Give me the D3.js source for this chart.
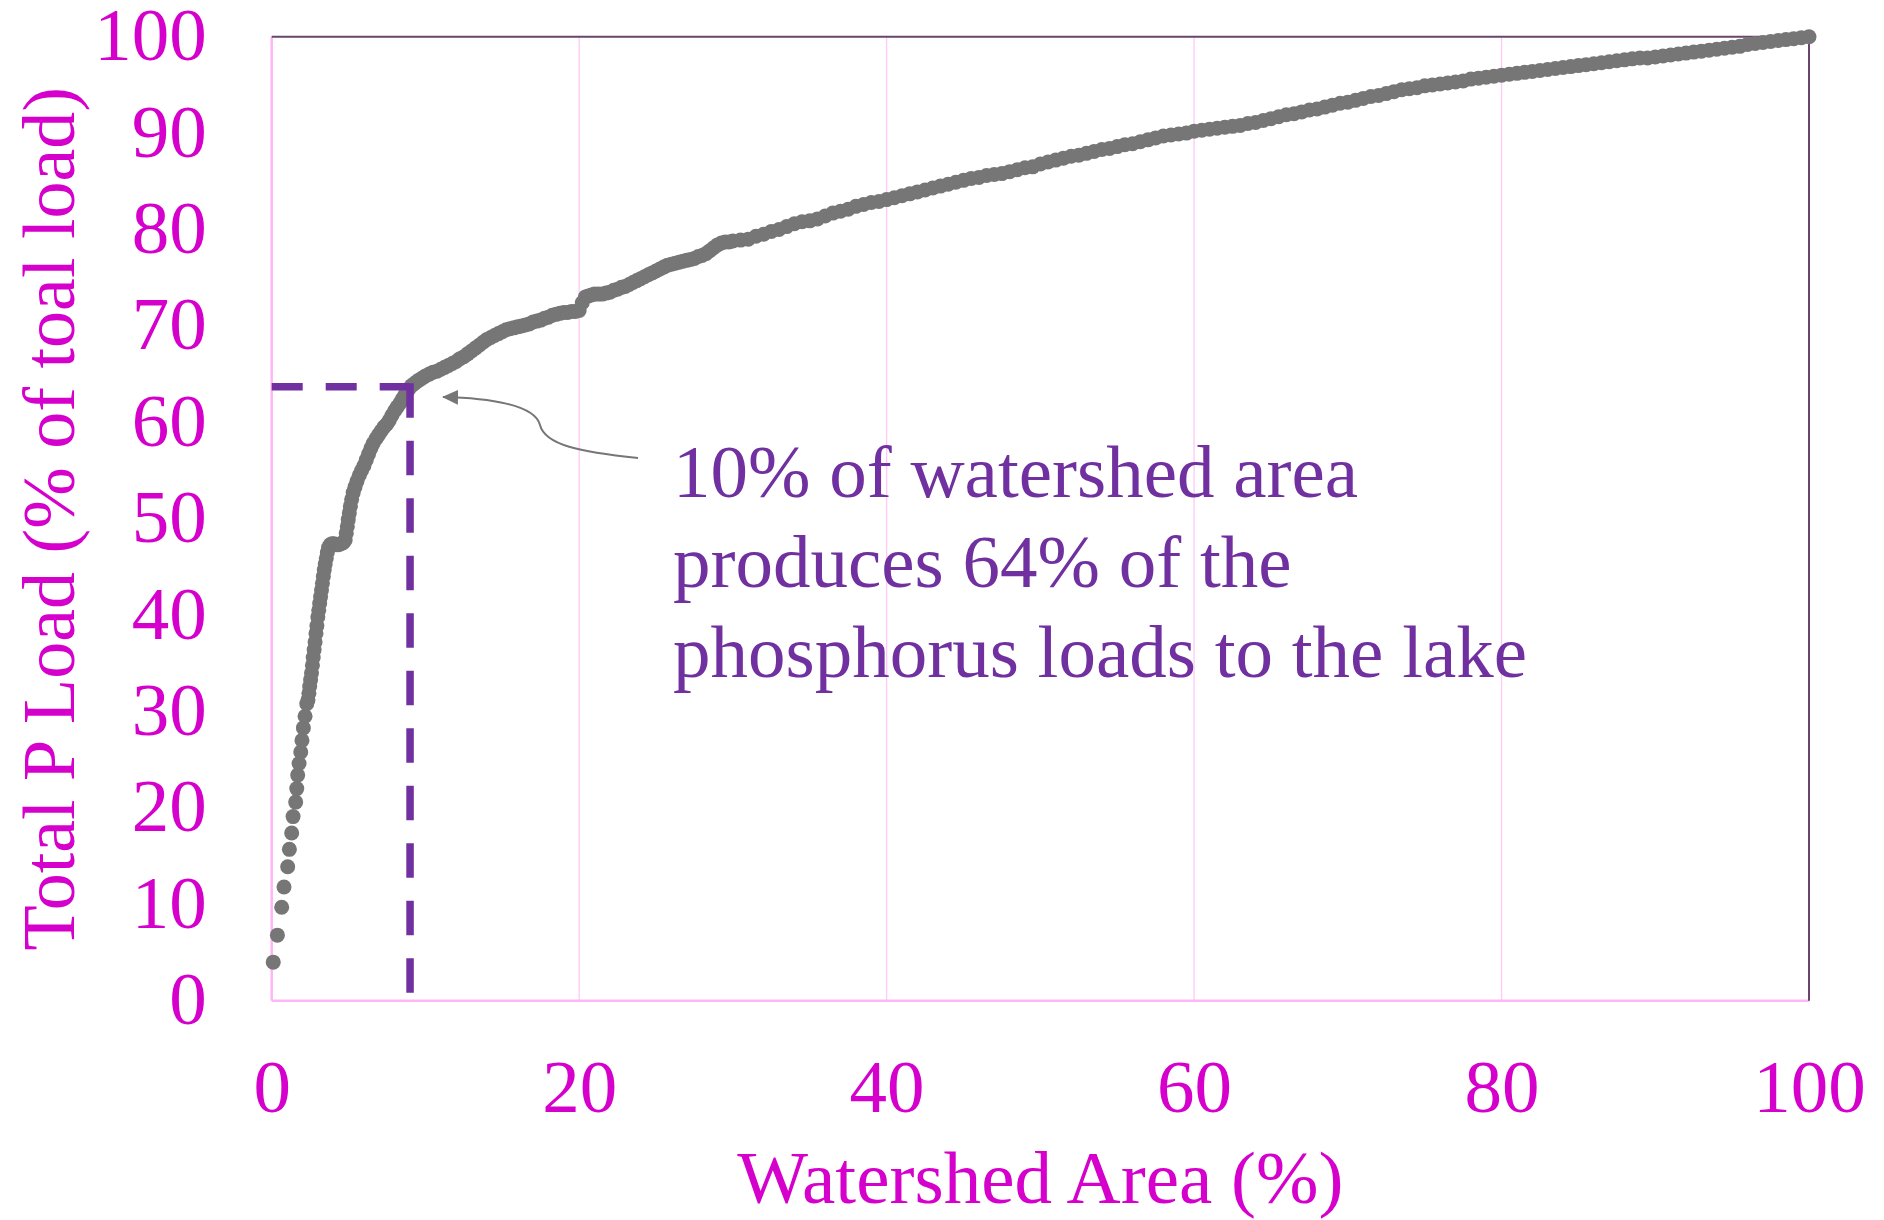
<!DOCTYPE html>
<html>
<head>
<meta charset="utf-8">
<script src="https://cdn.jsdelivr.net/npm/d3@7"></script>
<style>
  html, body { margin: 0; padding: 0; background: #fff; }
  svg { display: block; }
</style>
</head>
<body>
<div id="chart"></div>
<script>
// cumulative share of watershed area (x) vs share of total P load (y)
var areaPct = [
  0.10, 0.37, 0.65, 0.80, 1.04, 1.15, 1.30, 1.39, 1.56, 1.63,
  1.69, 1.78, 1.89, 1.97, 2.06, 2.17, 2.28,
  2.36, 2.42, 2.47, 2.53, 2.59, 2.65, 2.70, 2.76, 2.82, 2.88,
  2.94, 3.00, 3.06, 3.12, 3.18, 3.24, 3.30, 3.36, 3.42, 3.48,
  3.55, 3.62, 3.70, 3.80, 3.92,
  4.05, 4.20, 4.35, 4.50, 4.65, 4.78, 4.85, 4.92, 4.98, 5.05,
  5.12, 5.20, 5.30, 5.42, 5.55, 5.70, 5.85, 6.00, 6.15, 6.30,
  6.45, 6.60, 6.78, 6.95, 7.12, 7.30, 7.48, 7.65, 7.82, 8.00,
  8.17, 8.35, 8.50, 8.65, 8.80, 8.95, 9.10, 9.27, 9.43, 9.60,
  9.80, 10.0, 10.25, 10.5, 10.75, 11.0, 11.25, 11.5, 11.75, 12.0,
  12.25, 12.5, 12.75, 13.0, 13.25, 13.5, 13.75, 14.0,
  14.25, 14.5, 14.75, 15.0, 15.25, 15.5, 15.75, 16.0, 16.25, 16.5,
  16.75, 17.0, 17.25, 17.5, 17.75, 18.0, 18.25, 18.5, 18.75, 19.0,
  19.25, 19.5, 19.75, 20.0, 20.2, 20.4, 20.6, 20.8, 21.0, 21.25,
  21.5, 21.75, 22.0, 22.25, 22.5, 22.75, 23.0, 23.25, 23.5, 23.75,
  24.0, 24.25, 24.5, 24.75, 25.0, 25.25, 25.5, 25.75, 26.0, 26.25,
  26.5, 26.75, 27.0, 27.25, 27.5, 27.75, 28.0, 28.25, 28.5, 28.75,
  29.0, 29.25, 29.5, 29.75, 30.0,
  30.5, 31.0, 31.5, 32.0, 32.5, 33.0, 33.5, 34.0, 34.5, 35.0,
  35.5, 36.0, 36.5, 37.0, 37.5, 38.0, 38.5, 39.0, 39.5, 40.0,
  40.5, 41.0, 41.5, 42.0, 42.5, 43.0, 43.5, 44.0, 44.5, 45.0,
  45.5, 46.0, 46.5, 47.0, 47.5, 48.0, 48.5, 49.0, 49.5, 50.0,
  50.5, 51.0, 51.5, 52.0, 52.5, 53.0, 53.5, 54.0, 54.5, 55.0,
  55.5, 56.0, 56.5, 57.0, 57.5, 58.0, 58.5, 59.0, 59.5, 60.0,
  60.5, 61.0, 61.5, 62.0, 62.5, 63.0, 63.5, 64.0, 64.5, 65.0,
  65.5, 66.0, 66.5, 67.0, 67.5, 68.0, 68.5, 69.0, 69.5, 70.0,
  70.5, 71.0, 71.5, 72.0, 72.5, 73.0, 73.5, 74.0, 74.5, 75.0,
  75.5, 76.0, 76.5, 77.0, 77.5, 78.0, 78.5, 79.0, 79.5, 80.0,
  80.5, 81.0, 81.5, 82.0, 82.5, 83.0, 83.5, 84.0, 84.5, 85.0,
  85.5, 86.0, 86.5, 87.0, 87.5, 88.0, 88.5, 89.0, 89.5, 90.0,
  90.5, 91.0, 91.5, 92.0, 92.5, 93.0, 93.5, 94.0, 94.5, 95.0,
  95.5, 96.0, 96.5, 97.0, 97.5, 98.0, 98.5, 99.0, 99.5, 100
];
var loadPct = [
  4.0, 6.8, 9.7, 11.8, 13.9, 15.7, 17.4, 19.1, 20.6, 22.0,
  23.4, 24.6, 25.8, 27.0, 28.3, 29.5, 30.8,
  31.2, 31.9, 32.6, 33.3, 34.0, 34.8, 35.6, 36.4, 37.2, 38.1,
  38.9, 39.8, 40.5, 41.2, 41.9, 42.6, 43.3, 44.0, 44.7, 45.3,
  45.9, 46.5, 47.0, 47.3, 47.4,
  47.4, 47.3, 47.3, 47.4, 47.5, 47.8, 48.5, 49.2, 49.9, 50.6,
  51.3, 52.0, 52.7, 53.3, 53.9, 54.5, 55.0, 55.5, 56.1, 56.7,
  57.3, 57.8, 58.3, 58.7, 59.1, 59.5, 59.8, 60.2, 60.7, 61.2,
  61.6, 62.0, 62.4, 62.8, 63.2, 63.5, 63.8, 64.0, 64.2, 64.4,
  64.6, 64.8, 65.0, 65.2, 65.3, 65.5, 65.7, 65.9, 66.1, 66.3,
  66.6, 66.8, 67.1, 67.4, 67.7, 68.0, 68.3, 68.6,
  68.8, 69.0, 69.2, 69.4, 69.6, 69.7, 69.8, 69.9, 70.0, 70.1,
  70.2, 70.4, 70.5, 70.6, 70.8, 70.9, 71.1, 71.2, 71.3, 71.4,
  71.4, 71.5, 71.5, 71.6, 72.4, 73.0, 73.1, 73.2, 73.3, 73.3,
  73.3, 73.4, 73.5, 73.7, 73.8, 74.0, 74.1, 74.3, 74.5, 74.7,
  74.9, 75.1, 75.3, 75.5, 75.7, 75.9, 76.1, 76.3, 76.4, 76.5,
  76.6, 76.7, 76.8, 76.9, 77.0, 77.2, 77.3, 77.5, 77.8, 78.1,
  78.4, 78.6, 78.7, 78.7, 78.8,
  78.9, 79.0, 79.3, 79.5, 79.8, 80.0, 80.3, 80.6, 80.8, 80.9,
  81.1, 81.4, 81.7, 81.9, 82.1, 82.4, 82.6, 82.8, 82.9, 83.1,
  83.3, 83.5, 83.7, 83.9, 84.1, 84.3, 84.5, 84.7, 84.9, 85.1,
  85.3, 85.4, 85.6, 85.7, 85.8, 86.0, 86.2, 86.4, 86.5, 86.8,
  87.0, 87.2, 87.4, 87.6, 87.7, 87.9, 88.1, 88.3, 88.4, 88.6,
  88.8, 88.9, 89.1, 89.3, 89.5, 89.7, 89.8, 89.9, 90.0, 90.2,
  90.3, 90.4, 90.5, 90.6, 90.7, 90.8, 91.0, 91.1, 91.3, 91.5,
  91.7, 91.9, 92.0, 92.2, 92.4, 92.5, 92.7, 92.9, 93.1, 93.2,
  93.4, 93.6, 93.8, 93.9, 94.1, 94.3, 94.5, 94.6, 94.7, 94.9,
  95.0, 95.1, 95.2, 95.3, 95.4, 95.6, 95.7, 95.8, 95.9, 96.0,
  96.1, 96.2, 96.3, 96.4, 96.5, 96.6, 96.7, 96.8, 96.9, 97.0,
  97.1, 97.2, 97.3, 97.4, 97.5, 97.6, 97.7, 97.8, 97.8, 97.9,
  98.0, 98.1, 98.2, 98.3, 98.4, 98.5, 98.6, 98.7, 98.8, 98.9,
  99.0, 99.2, 99.3, 99.4, 99.5, 99.6, 99.7, 99.8, 99.9, 100
];

var xTicks = [0, 20, 40, 60, 80, 100];
var yTicks = [0, 10, 20, 30, 40, 50, 60, 70, 80, 90, 100];

// reference point marked by the dashed guide lines
var refArea = 9;
var refLoad = 63.7;

var xTitle = 'Watershed Area (%)';
var yTitle = 'Total P Load (% of toal load)';
var noteLines = [
  '10% of watershed area',
  'produces 64% of the',
  'phosphorus loads to the lake'
];

var w = 1884, h = 1220;
var margin = {left: 271.7, right: 75, top: 36.7, bottom: 219.3};
var font = '"Liberation Serif", "Times New Roman", Times, serif';
var magenta = '#d600cc';
var purple = '#7030a0';
var dotGray = '#767676';

var svg = d3.select('#chart').append('svg')
  .attr('width', w)
  .attr('height', h);

var x = d3.scaleLinear().domain([0, 100]).range([margin.left, w - margin.right]);
var y = d3.scaleLinear().domain([0, 100]).range([h - margin.bottom, margin.top]);

// vertical grid lines
svg.append('g').selectAll('line')
  .data(xTicks.slice(1, -1))
  .enter()
  .append('line')
    .attr('x1', function(d) { return x(d); })
    .attr('x2', function(d) { return x(d); })
    .attr('y1', y(0))
    .attr('y2', y(100))
    .attr('stroke', '#ffc8f7')
    .attr('stroke-width', 1.3);

// plot frame: pink left/bottom, dark purple top/right
svg.append('line')
  .attr('x1', x(0)).attr('x2', x(0))
  .attr('y1', y(0)).attr('y2', y(100))
  .attr('stroke', '#ffb6f4').attr('stroke-width', 2.5);
svg.append('line')
  .attr('x1', x(0)).attr('x2', x(100))
  .attr('y1', y(0)).attr('y2', y(0))
  .attr('stroke', '#ffb6f4').attr('stroke-width', 2.5);
svg.append('path')
  .attr('d', 'M' + x(0) + ',' + y(100) + ' H' + x(100) + ' V' + y(0))
  .attr('fill', 'none')
  .attr('stroke', '#6b446e')
  .attr('stroke-width', 2);

// axes (labels only)
var xAxis = svg.append('g')
  .attr('transform', 'translate(0,' + y(0) + ')')
  .call(d3.axisBottom(x).tickValues(xTicks).tickSize(0).tickFormat(d3.format('d')));
xAxis.select('.domain').remove();
xAxis.selectAll('text')
  .attr('y', 111)
  .attr('dy', 0)
  .attr('fill', magenta)
  .style('font-family', font)
  .style('font-size', '75px');

var yAxis = svg.append('g')
  .attr('transform', 'translate(' + x(0) + ',0)')
  .call(d3.axisLeft(y).tickValues(yTicks).tickSize(0).tickFormat(d3.format('d')));
yAxis.select('.domain').remove();
yAxis.selectAll('text')
  .attr('x', -65)
  .attr('dy', 23)
  .attr('fill', magenta)
  .style('font-family', font)
  .style('font-size', '75px');

// axis titles
svg.append('text')
  .attr('x', (x(0) + x(100)) / 2)
  .attr('y', 1203)
  .attr('text-anchor', 'middle')
  .attr('fill', magenta)
  .style('font-family', font)
  .style('font-size', '75px')
  .text(xTitle);

svg.append('text')
  .attr('transform', 'translate(74,' + ((y(0) + y(100)) / 2) + ') rotate(-90)')
  .attr('text-anchor', 'middle')
  .attr('fill', magenta)
  .style('font-family', font)
  .style('font-size', '74px')
  .text(yTitle);

// scatter points
svg.append('g').selectAll('circle')
  .data(d3.zip(areaPct, loadPct))
  .enter()
  .append('circle')
    .attr('cx', function(d) { return x(d[0]); })
    .attr('cy', function(d) { return y(d[1]); })
    .attr('r', 7.5)
    .attr('fill', dotGray);

// dashed guides to the reference point
svg.append('line')
  .attr('x1', x(0)).attr('x2', x(refArea))
  .attr('y1', y(refLoad)).attr('y2', y(refLoad))
  .attr('stroke', purple).attr('stroke-width', 7.5)
  .attr('stroke-dasharray', '31,23');
svg.append('line')
  .attr('x1', x(refArea)).attr('x2', x(refArea))
  .attr('y1', y(refLoad) - 3.5).attr('y2', y(0))
  .attr('stroke', purple).attr('stroke-width', 7.5)
  .attr('stroke-dasharray', '34.5,23');

// annotation arrow
svg.append('defs').append('marker')
  .attr('id', 'arrowHead')
  .attr('viewBox', '0 0 16 15')
  .attr('refX', 15)
  .attr('refY', 7.5)
  .attr('markerWidth', 16)
  .attr('markerHeight', 15)
  .attr('markerUnits', 'userSpaceOnUse')
  .attr('orient', 'auto')
  .append('path')
    .attr('d', 'M0,0 L16,7.5 L0,15 z')
    .attr('fill', '#767676');

svg.append('path')
  .attr('d', 'M638,458 C580,452 545,445 540,425 C535,405 490,398 443,397')
  .attr('fill', 'none')
  .attr('stroke', '#767676')
  .attr('stroke-width', 2)
  .attr('marker-end', 'url(#arrowHead)');

// annotation text
svg.append('g').selectAll('text')
  .data(noteLines)
  .enter()
  .append('text')
    .attr('x', 673)
    .attr('y', function(d, i) { return 497 + i * 90; })
    .attr('fill', purple)
    .style('font-family', font)
    .style('font-size', '75px')
    .text(function(d) { return d; });
</script>
</body>
</html>
